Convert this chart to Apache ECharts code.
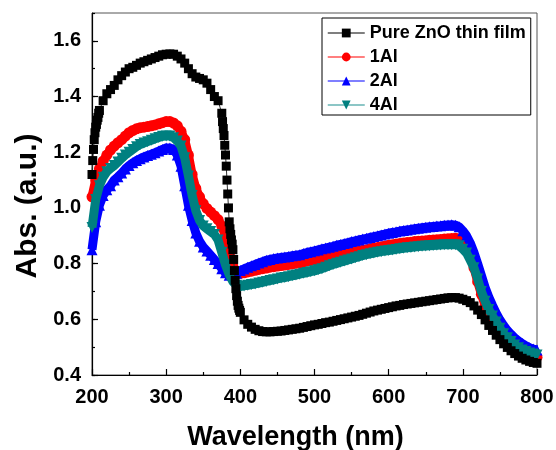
<!DOCTYPE html>
<html>
<head>
<meta charset="utf-8">
<script src="https://cdn.jsdelivr.net/npm/echarts@6/dist/echarts.min.js"></script>
<style>
  html, body { margin: 0; padding: 0; background: #fff; }
  #chart { width: 556px; height: 450px; }
</style>
</head>
<body>
<div id="chart"></div>
<script>
// Wavelength grid (nm), 5 nm steps
const wavelengths = [
  200,205,210,215,220,225,230,235,240,245,
  250,255,260,265,270,275,280,285,290,295,
  300,305,310,315,320,325,330,335,340,345,
  350,355,360,365,370,375,380,385,390,395,
  400,405,410,415,420,425,430,435,440,445,
  450,455,460,465,470,475,480,485,490,495,
  500,505,510,515,520,525,530,535,540,545,
  550,555,560,565,570,575,580,585,590,595,
  600,605,610,615,620,625,630,635,640,645,
  650,655,660,665,670,675,680,685,690,695,
  700,705,710,715,720,725,730,735,740,745,
  750,755,760,765,770,775,780,785,790,795,
  800
];

// Absorbance, pure ZnO thin film
const pureZnO = [
  1.12,1.29,1.35,1.385,1.41,1.425,1.44,1.46,1.475,1.488,
  1.50,1.505,1.512,1.52,1.525,1.53,1.535,1.54,1.545,1.55,
  1.552,1.553,1.552,1.545,1.535,1.52,1.50,1.482,1.47,1.465,
  1.46,1.448,1.425,1.40,1.385,1.34,1.19,0.95,0.85,0.685,
  0.625,0.598,0.582,0.572,0.564,0.559,0.556,0.555,0.555,0.556,
  0.557,0.558,0.56,0.562,0.564,0.566,0.568,0.571,0.574,0.577,
  0.58,0.582,0.585,0.588,0.59,0.593,0.596,0.599,0.602,0.605,
  0.608,0.611,0.614,0.618,0.622,0.626,0.63,0.633,0.636,0.639,
  0.642,0.645,0.648,0.65,0.653,0.655,0.657,0.659,0.661,0.663,
  0.665,0.667,0.669,0.671,0.673,0.675,0.677,0.678,0.678,0.676,
  0.672,0.667,0.66,0.648,0.633,0.617,0.598,0.578,0.56,0.543,
  0.527,0.512,0.499,0.487,0.477,0.468,0.46,0.454,0.449,0.445,
  0.442
];

// Extra 1 nm readings of pure ZnO where the curve is steep
const pureZnOEdgeWl = [
  201,202,203,204,206,207,208,209,
  376,377,378,379,381,382,383,384,386,387,388,389,391,392,393,394,396,397,398,399
];
const pureZnOEdgeAbs = [
  1.17,1.21,1.245,1.27,1.30,1.315,1.325,1.34,
  1.31,1.285,1.26,1.225,1.15,1.10,1.05,1.00,0.925,0.905,0.885,0.87,0.815,0.775,0.74,0.71,0.665,0.65,0.64,0.632
];

// Absorbance, 1Al
const al1 = [
  1.04,1.10,1.14,1.168,1.19,1.208,1.222,1.234,1.245,1.258,
  1.27,1.278,1.284,1.288,1.29,1.292,1.295,1.298,1.302,1.306,
  1.31,1.31,1.305,1.295,1.275,1.245,1.19,1.12,1.07,1.04,
  1.015,0.998,0.985,0.972,0.958,0.935,0.898,0.85,0.79,0.768,
  0.765,0.767,0.77,0.773,0.776,0.779,0.782,0.784,0.787,0.789,
  0.791,0.793,0.795,0.797,0.799,0.801,0.803,0.806,0.809,0.811,
  0.813,0.816,0.819,0.821,0.824,0.826,0.829,0.832,0.834,0.837,
  0.84,0.842,0.845,0.848,0.85,0.853,0.856,0.858,0.861,0.863,
  0.866,0.868,0.87,0.872,0.874,0.876,0.877,0.879,0.88,0.881,
  0.882,0.884,0.885,0.886,0.887,0.888,0.889,0.89,0.891,0.889,
  0.88,0.862,0.83,0.785,0.735,0.69,0.65,0.618,0.59,0.567,
  0.548,0.532,0.518,0.506,0.496,0.488,0.481,0.476,0.471,0.467,
  0.464
];

// Absorbance, 2Al
const al2 = [
  0.85,0.95,1.01,1.045,1.065,1.08,1.10,1.112,1.125,1.14,
  1.152,1.162,1.17,1.177,1.183,1.188,1.193,1.198,1.204,1.21,
  1.215,1.215,1.21,1.19,1.15,1.08,1.01,0.955,0.91,0.88,
  0.86,0.845,0.83,0.815,0.80,0.782,0.767,0.758,0.758,0.765,
  0.775,0.781,0.787,0.792,0.797,0.802,0.807,0.812,0.815,0.818,
  0.82,0.822,0.824,0.826,0.828,0.83,0.832,0.836,0.84,0.843,
  0.846,0.849,0.853,0.856,0.859,0.862,0.866,0.869,0.872,0.875,
  0.879,0.882,0.885,0.888,0.891,0.894,0.897,0.9,0.903,0.906,
  0.909,0.912,0.914,0.917,0.919,0.921,0.923,0.925,0.927,0.929,
  0.931,0.932,0.933,0.935,0.936,0.938,0.939,0.94,0.938,0.932,
  0.918,0.9,0.874,0.84,0.80,0.758,0.715,0.68,0.65,0.622,
  0.598,0.578,0.56,0.546,0.533,0.522,0.513,0.505,0.498,0.493,
  0.49
];

// Absorbance, 4Al
const al4 = [
  0.93,1.03,1.08,1.11,1.13,1.142,1.152,1.165,1.178,1.19,
  1.20,1.21,1.22,1.228,1.233,1.238,1.243,1.248,1.253,1.257,
  1.258,1.258,1.252,1.24,1.222,1.18,1.115,1.045,0.99,0.955,
  0.935,0.925,0.915,0.905,0.885,0.84,0.795,0.76,0.735,0.722,
  0.718,0.72,0.722,0.725,0.727,0.73,0.733,0.736,0.739,0.742,
  0.745,0.748,0.75,0.753,0.756,0.759,0.762,0.765,0.768,0.771,
  0.774,0.778,0.782,0.787,0.792,0.797,0.801,0.805,0.809,0.813,
  0.817,0.821,0.825,0.829,0.832,0.835,0.838,0.841,0.843,0.845,
  0.847,0.849,0.851,0.853,0.855,0.857,0.858,0.86,0.861,0.862,
  0.863,0.864,0.865,0.866,0.867,0.868,0.868,0.868,0.868,0.864,
  0.852,0.838,0.812,0.785,0.745,0.70,0.665,0.635,0.612,0.59,
  0.568,0.548,0.534,0.52,0.508,0.498,0.49,0.484,0.479,0.475,
  0.472
];

const xTicks = [200, 300, 400, 500, 600, 700, 800];
const yTicks = [0.4, 0.6, 0.8, 1.0, 1.2, 1.4, 1.6];

const FONT = 'Arial, "Liberation Sans", sans-serif';

function pairs(xs, ys) {
  return xs.map((x, i) => [x, ys[i]]);
}

// pure ZnO: merge the regular grid with the extra fine readings
const pureZnOData = pairs(wavelengths, pureZnO)
  .concat(pairs(pureZnOEdgeWl, pureZnOEdgeAbs))
  .sort((a, b) => a[0] - b[0]);

const chart = echarts.init(document.getElementById('chart'), null, { renderer: 'canvas' });

const tickLabel = { color: '#000', fontFamily: FONT, fontWeight: 'bold', fontSize: 20 };

const option = {
  animation: false,
  backgroundColor: '#fff',
  grid: {
    left: 92, right: 19, top: 13, bottom: 75,
    outerBoundsMode: 'none', containLabel: false,
    show: true, borderColor: '#555', borderWidth: 1, backgroundColor: 'transparent'
  },
  legend: {
    orient: 'vertical',
    left: 322, top: 18,
    padding: [6, 5, 1, 5],
    backgroundColor: '#fff',
    borderColor: '#000', borderWidth: 1, borderRadius: 0,
    itemWidth: 37, itemHeight: 11, itemGap: 6,
    textStyle: { color: '#000', fontFamily: FONT, fontWeight: 'bold', fontSize: 18, lineHeight: 18 },
    data: [
      { name: 'Pure ZnO thin film', lineStyle: { color: '#555', width: 1.5 } },
      { name: '1Al', lineStyle: { color: '#ff0000', width: 1.2 } },
      { name: '2Al', lineStyle: { color: '#0000ff', width: 1.2 } },
      { name: '4Al', lineStyle: { color: '#66b3b3', width: 1.5 } }
    ]
  },
  xAxis: {
    type: 'value', min: xTicks[0], max: xTicks[xTicks.length - 1], interval: 100,
    axisLine: { lineStyle: { color: '#000', width: 1.2 } },
    axisTick: { inside: true, length: 6, lineStyle: { color: '#000', width: 1.2 } },
    minorTick: { show: true, splitNumber: 2, length: 3, lineStyle: { color: '#000', width: 1.2 } },
    splitLine: { show: false },
    axisLabel: Object.assign({ margin: 12 }, tickLabel),
    name: 'Wavelength (nm)', nameLocation: 'middle', nameGap: 49,
    nameTextStyle: {
      color: '#000', fontFamily: FONT, fontWeight: 'bold', fontSize: 27,
      padding: [0, 38, 0, 0]
    }
  },
  yAxis: [
    {
      type: 'value', min: yTicks[0], max: 1.7, interval: 0.2,
      axisLine: { lineStyle: { color: '#000', width: 1.2 } },
      axisTick: { inside: true, length: 6, lineStyle: { color: '#000', width: 1.2 } },
      splitLine: { show: false },
      axisLabel: Object.assign({
        margin: 11, showMaxLabel: false,
        formatter: v => (yTicks.some(t => Math.abs(t - v) < 1e-6) ? v.toFixed(1) : '')
      }, tickLabel),
      name: 'Abs. (a.u.)', nameLocation: 'middle', nameGap: 48,
      nameTextStyle: {
        color: '#000', fontFamily: FONT, fontWeight: 'bold', fontSize: 30,
        padding: [0, 24, 0, 0]
      }
    },
    {
      // minor ticks every 0.1
      type: 'value', min: yTicks[0], max: 1.7, interval: 0.1, position: 'left',
      axisLine: { show: false },
      axisTick: { inside: true, length: 3, lineStyle: { color: '#000', width: 1.2 } },
      axisLabel: { show: false },
      splitLine: { show: false }
    }
  ],
  series: [
    {
      name: 'Pure ZnO thin film', type: 'line', data: pureZnOData,
      symbol: 'rect', symbolSize: 9,
      itemStyle: { color: '#000' },
      lineStyle: { color: '#333', width: 1 },
      z: 6
    },
    {
      name: '1Al', type: 'line', data: pairs(wavelengths, al1),
      symbol: 'circle', symbolSize: 11,
      itemStyle: { color: '#ff0000' },
      lineStyle: { color: '#ff0000', width: 9 },
      z: 2
    },
    {
      name: '2Al', type: 'line', data: pairs(wavelengths, al2),
      symbol: 'triangle', symbolSize: 11,
      itemStyle: { color: '#0000ff' },
      lineStyle: { color: '#0000ff', width: 9 },
      z: 3
    },
    {
      name: '4Al', type: 'line', data: pairs(wavelengths, al4),
      symbol: 'triangle', symbolRotate: 180, symbolSize: 11,
      itemStyle: { color: '#008080' },
      lineStyle: { color: '#008080', width: 9 },
      z: 4
    }
  ]
};

chart.setOption(option);
</script>
</body>
</html>
